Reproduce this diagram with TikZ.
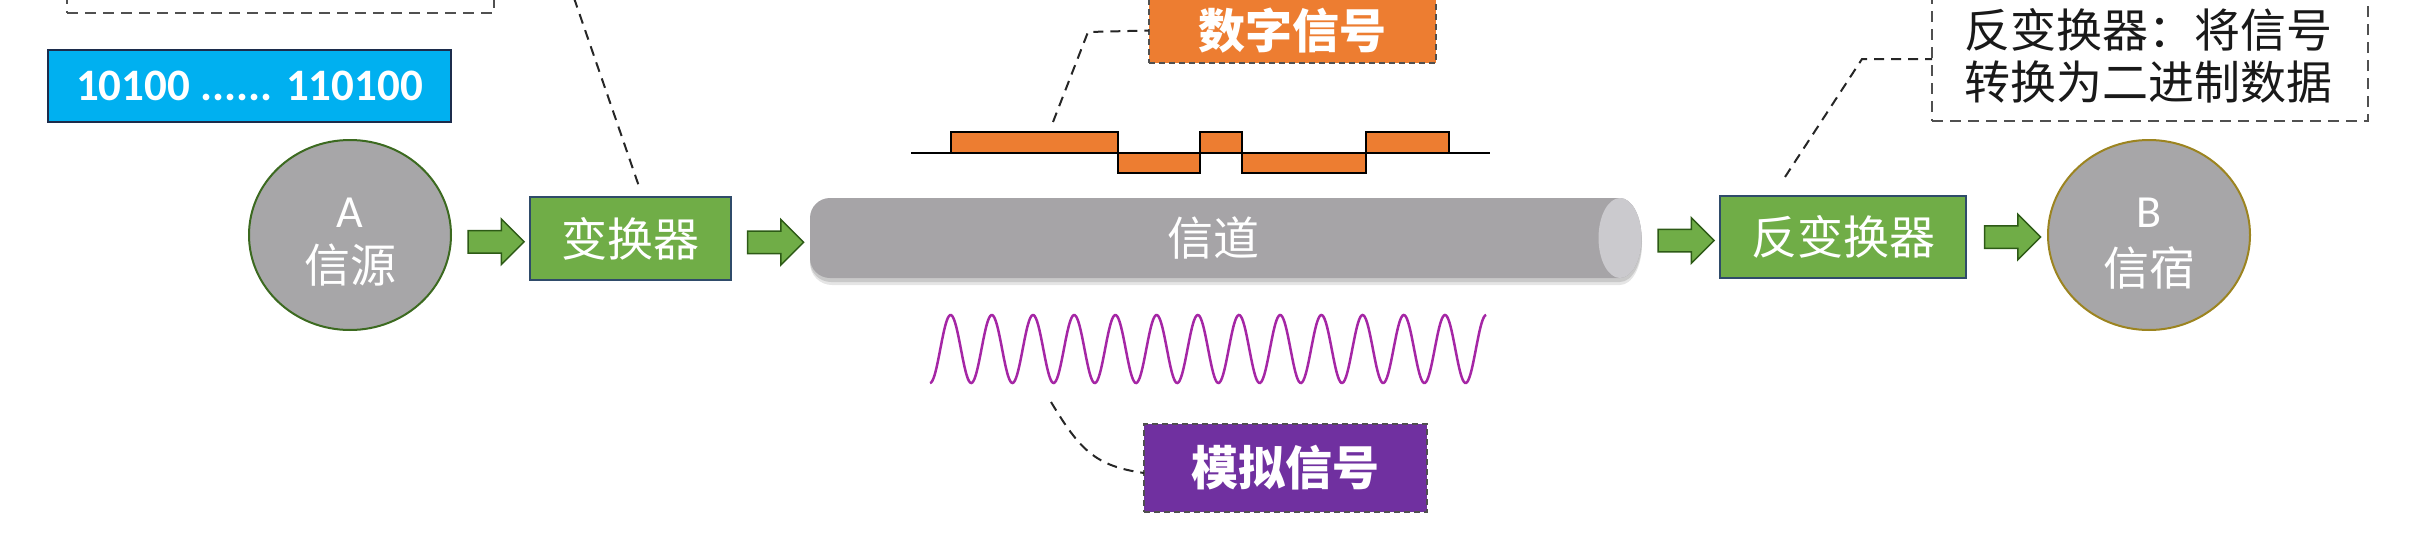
\documentclass[tikz,border=0pt]{standalone}
\usepackage{fontspec}
\setmainfont{Carlito}
\newfontfamily\cjk{Noto Sans CJK SC}
\usetikzlibrary{shapes.geometric,shapes.arrows,calc}
\definecolor{nodegray}{HTML}{A7A6A8}
\definecolor{boxgreen}{HTML}{70AD47}
\definecolor{boxedge}{HTML}{2F4B6A}
\definecolor{arrowedge}{HTML}{2D5A16}
\definecolor{cylbody}{HTML}{A6A4A7}
\definecolor{cylend}{HTML}{CBCACE}
\definecolor{digorange}{HTML}{ED7D31}
\definecolor{anapurple}{HTML}{7030A0}
\definecolor{wavecol}{HTML}{A526A5}
\definecolor{bitblue}{HTML}{00B0F0}
\definecolor{bitedge}{HTML}{1C2C4C}
\definecolor{Aedge}{HTML}{3C6A20}
\definecolor{Bedge}{HTML}{9C8420}
\definecolor{dashgray}{HTML}{505050}
\definecolor{baseline}{HTML}{808080}
\begin{document}
\begin{tikzpicture}[x=1pt,y=-1pt,
  every node/.style={inner sep=0pt, outer sep=0pt},
  endpoint/.style={ellipse, fill=nodegray, line width=2pt, minimum width=202pt, minimum height=190pt},
  eptext/.style={text=white, font=\fontsize{46}{52}\selectfont},
  epcjk/.style={text=white, font=\cjk\fontsize{46}{52}\selectfont},
  convbox/.style={rectangle, fill=boxgreen, draw=boxedge, line width=1.5pt, text=white, font=\cjk\fontsize{46}{52}\selectfont},
  blockarrow/.style={single arrow, fill=boxgreen, draw=arrowedge, line width=1.5pt, minimum height=56pt, minimum width=44pt, single arrow head extend=11.5pt, single arrow head indent=0pt, inner ysep=10.5pt, inner xsep=0pt, text height=0pt, text depth=0pt, text width=0pt},
  dashbox/.style={rectangle, fill=white, draw=dashgray, line width=2pt, dash pattern=on 11pt off 7pt},
  siglabel/.style={rectangle, draw=dashgray, line width=2pt, dash pattern=on 6pt off 4pt, text=white, font=\cjk\bfseries\fontsize{47}{52}\selectfont},
  leader/.style={draw=black!85, line width=2pt, dash pattern=on 10pt off 7pt},
  pulse/.style={fill=digorange, draw=black, line width=2pt},
  wave/.style={draw=wavecol, line width=2.5pt}
]
\useasboundingbox (0,0) rectangle (2431,538);
\clip (0,0) rectangle (2431,538);

% top-left dashed box (partly outside)
\node[dashbox, anchor=south west, minimum width=427pt, minimum height=60pt] (tlbox) at (67,13) {};

% bit string box
\node[rectangle, fill=bitblue, draw=bitedge, line width=1.5pt, minimum width=403pt, minimum height=72pt,
      text=white, font=\bfseries\fontsize{45}{50}\selectfont] (bits) at (249.5,86) {10100 ...... 110100};

% channel (cylinder) drawn directly
\fill[black, opacity=0.10] (833,203) -- (1620,203) arc[start angle=-90, end angle=90, x radius=22, y radius=41] -- (833,285) [rounded corners=22pt] -- (810,285) -- (810,203) [sharp corners] -- cycle;
\fill[black, opacity=0.12] (833,201) -- (1620,201) arc[start angle=-90, end angle=90, x radius=22, y radius=40.5] -- (833,282) [rounded corners=21pt] -- (810,282) -- (810,201) [sharp corners] -- cycle;
\fill[cylbody] (831,198) -- (1620,198) arc[start angle=-90, end angle=90, x radius=21.5, y radius=40] -- (831,278) [rounded corners=20pt] -- (810,278) -- (810,198) [sharp corners] -- cycle;
\fill[cylend] (1620,238) ellipse[x radius=21.5, y radius=40];
\node[minimum width=832pt, minimum height=80pt, text=white, font=\cjk\fontsize{46}{52}\selectfont] (chan) at (1225,238) {\hspace*{-24pt}信道};

% main chain
\node[endpoint, draw=Aedge] (A) at (350,235) {};
\node[eptext] (Aname) at ($(A.center)+(0,-22)$) {A};
\node[epcjk] (Alab) at ($(A.center)+(0,30)$) {信源};

\node[convbox, minimum width=201pt, minimum height=83pt] (conv) at (630.5,238.5) {变换器};

\node[convbox, minimum width=246pt, minimum height=82pt] (inv) at (1843,237) {反变换器};

\node[endpoint, draw=Bedge] (B) at (2149,235) {};
\node[eptext] (Bname) at ($(B.center)+(0,-22)$) {B};
\node[epcjk] (Blab) at ($(B.center)+(0,33)$) {信宿};

% block arrows
\node[blockarrow] (ar1) at ($($(A.east)!0.5!(conv.west)$)+(0,5)$) {};
\node[blockarrow] (ar2) at ($($(conv.east)!0.5!(chan.west)$)+(0,4)$) {};
\node[blockarrow] (ar3) at ($($(chan.east)!0.5!(inv.west)$)+(0,3)$) {};
\node[blockarrow] (ar4) at ($($(inv.east)!0.5!(B.west)$)+(0,1)$) {};

% digital signal
\draw[baseline, line width=2pt] (911,153) -- (1490,153);
\draw[pulse] (951,132) rectangle (1118,153);
\draw[pulse] (1118,153) rectangle (1200,173);
\draw[pulse] (1200,132) rectangle (1242,153);
\draw[pulse] (1242,153) rectangle (1366,173);
\draw[pulse] (1366,132) rectangle (1449,153);
\coordinate (digstart) at (1053,122);

% analog signal
\draw[wave] plot[domain=0:13.5, samples=500, smooth] ({930+\x*41.2},{349+34*cos(\x*360)});
\coordinate (anastart) at (1051,402);

% labels
\node[siglabel, fill=digorange, minimum width=287pt, minimum height=65pt] (dig) at (1292.5,30.5) {数字信号};
\node[siglabel, fill=anapurple, minimum width=283pt, minimum height=88pt] (anl) at (1285.5,468) {模拟信号};

% right note box
\node[dashbox, anchor=south west, minimum width=436pt, minimum height=141pt] (rbox) at (1932,121) {};
\node[text=black!90, align=center, font=\cjk\fontsize{46}{52}\selectfont] (rtext) at (2148.5,56) {反变换器：将信号\\转换为二进制数据};

% leaders
\coordinate (tltop) at (574,-2);
\draw[leader] (tltop) -- ($(conv.north)+(8,-12)$);
\draw[leader] (digstart) -- (1088,32) -- (dig.west);
\draw[leader] ($(inv.north)+(-58,-19)$) -- (1862,59) -- (rbox.west |- 0,59);
\draw[leader] (anastart) .. controls (1080,450) and (1095,466) .. ($(anl.west)+(0,5)$);
\end{tikzpicture}
\end{document}
